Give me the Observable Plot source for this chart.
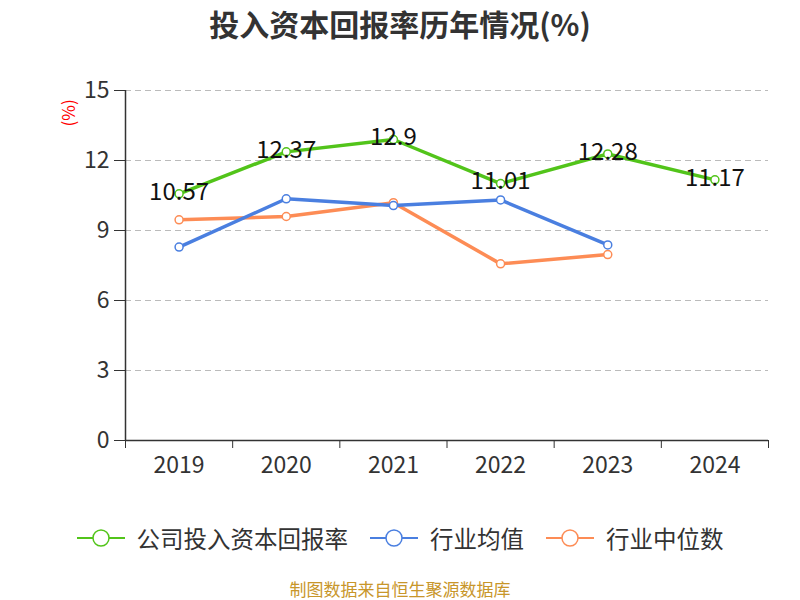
<!DOCTYPE html>
<html>
<head>
<meta charset="utf-8">
<script src="https://cdn.jsdelivr.net/npm/d3@7"></script>
<script src="https://cdn.jsdelivr.net/npm/@observablehq/plot@0.6"></script>
<style>
  body { margin: 0; width: 800px; height: 600px; background: #fff; font-family: "Noto Sans CJK SC", "Noto Sans", sans-serif; overflow: hidden; }
  #title { height: 50px; line-height: 46px; text-align: center; font-size: 30px; font-weight: bold; color: #333; }
  #chart { height: 460px; }
  #legend { height: 56px; display: flex; justify-content: center; align-items: center; font-size: 23.5px; color: #333; }
  .item { display: flex; align-items: center; margin: 0 11px; }
  .item svg { margin-right: 12px; }
  #caption { text-align: center; font-size: 17px; color: #c8962a; line-height: 18px; margin-top: 14px; }
</style>
</head>
<body>
<div id="title">投入资本回报率历年情况(%)</div>
<div id="chart"></div>
<div id="legend"></div>
<div id="caption">制图数据来自恒生聚源数据库</div>
<script>
const years = [2019, 2020, 2021, 2022, 2023, 2024];
const companyValues = [10.57, 12.37, 12.9, 11.01, 12.28, 11.17];
const industryAvgYears = [2019, 2020, 2021, 2022, 2023];
const industryAvg = [8.29, 10.36, 10.07, 10.31, 8.38];
const industryMedYears = [2019, 2020, 2021, 2022, 2023];
const industryMed = [9.46, 9.6, 10.19, 7.57, 7.97];
const yTicks = [0, 3, 6, 9, 12, 15];
const seriesNames = ["公司投入资本回报率", "行业均值", "行业中位数"];
const colors = ["#52c41a", "#4a7fe0", "#fd8c55"];

const company = years.map((y, i) => ({year: y, value: companyValues[i]}));
const avg = industryAvgYears.map((y, i) => ({year: y, value: industryAvg[i]}));
const med = industryMedYears.map((y, i) => ({year: y, value: industryMed[i]}));
const boundaries = [years[0] - 0.5, ...years.map(y => y + 0.5)];

const plot = Plot.plot({
  width: 800,
  height: 460,
  marginLeft: 125,
  marginRight: 32,
  marginTop: 40,
  marginBottom: 70,
  style: {fontFamily: '"Noto Sans CJK SC", "Noto Sans", sans-serif', background: "#fff"},
  x: {type: "linear", domain: [years[0] - 0.5, years[years.length - 1] + 0.5]},
  y: {domain: [0, 15]},
  marks: [
    Plot.gridY(yTicks.filter(d => d > 0), {stroke: "#bbb", strokeOpacity: 1, strokeDasharray: "6,4", strokeWidth: 1}),
    Plot.axisY(yTicks, {tickSize: 11, tickPadding: 5, fontSize: 23, color: "#333", stroke: "#333", strokeWidth: 1, label: null}),
    Plot.axisX(boundaries, {tickSize: 8, tickFormat: () => "", stroke: "#333", label: null}),
    Plot.axisX(years, {tickSize: 0, tickPadding: 16, fontSize: 23, color: "#333", tickFormat: d => String(d), label: null}),
    Plot.ruleX([years[0] - 0.5], {stroke: "#333", strokeWidth: 1.5}),
    Plot.ruleY([0], {stroke: "#333", strokeWidth: 1.5}),
    Plot.text(["(%)"], {frameAnchor: "top-left", dx: -63, dy: 36, rotate: -90, fill: "red", fontSize: 17}),
    Plot.line(med, {x: "year", y: "value", stroke: colors[2], strokeWidth: 3.5}),
    Plot.dot(med, {x: "year", y: "value", r: 4, fill: "white", stroke: colors[2], strokeWidth: 1.5}),
    Plot.line(avg, {x: "year", y: "value", stroke: colors[1], strokeWidth: 3.5}),
    Plot.dot(avg, {x: "year", y: "value", r: 4, fill: "white", stroke: colors[1], strokeWidth: 1.5}),
    Plot.line(company, {x: "year", y: "value", stroke: colors[0], strokeWidth: 3.5}),
    Plot.dot(company, {x: "year", y: "value", r: 4, fill: "white", stroke: colors[0], strokeWidth: 1.5}),
    Plot.text(company, {x: "year", y: "value", text: d => String(d.value), fill: "#111", fontSize: 24, dy: -2})
  ]
});
document.getElementById("chart").appendChild(plot);

const legend = document.getElementById("legend");
seriesNames.forEach((name, i) => {
  const item = document.createElement("div");
  item.className = "item";
  item.innerHTML = `<svg width="48" height="22"><line x1="0" y1="11" x2="48" y2="11" stroke="${colors[i]}" stroke-width="2"/><circle cx="24" cy="11" r="8" fill="white" stroke="${colors[i]}" stroke-width="1.5"/></svg><span>${name}</span>`;
  legend.appendChild(item);
});
</script>
</body>
</html>
